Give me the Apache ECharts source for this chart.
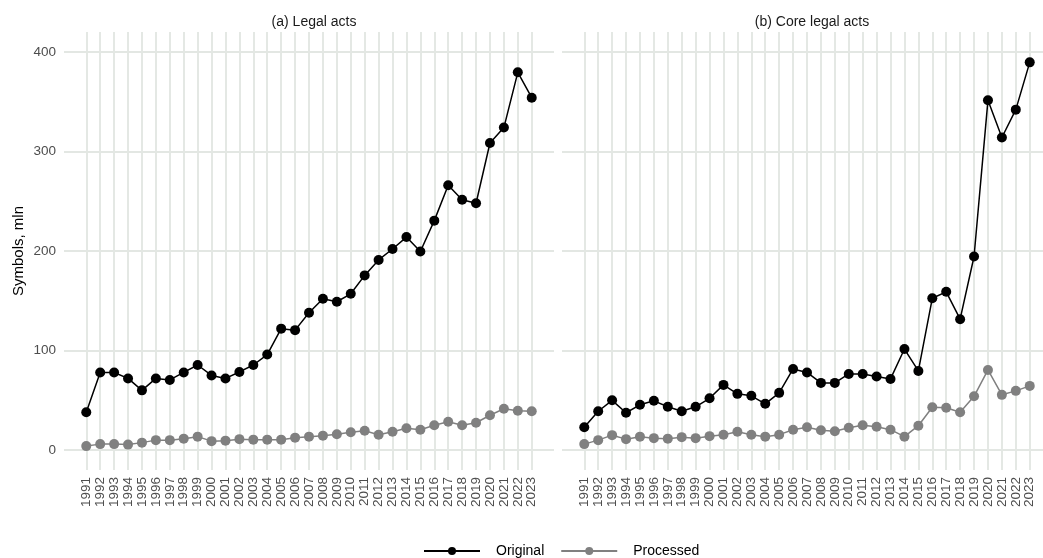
<!DOCTYPE html>
<html>
<head>
<meta charset="utf-8">
<script src="https://cdn.jsdelivr.net/npm/echarts@6/dist/echarts.min.js"></script>
<style>
  html, body { margin: 0; padding: 0; background: #fff; }
  #chart { width: 1043px; height: 558px; }
</style>
</head>
<body>
<div id="chart"></div>
<script>
const years = [
  1991, 1992, 1993, 1994, 1995, 1996, 1997, 1998, 1999, 2000, 2001,
  2002, 2003, 2004, 2005, 2006, 2007, 2008, 2009, 2010, 2011, 2012,
  2013, 2014, 2015, 2016, 2017, 2018, 2019, 2020, 2021, 2022, 2023,
];
const yTicks = [0, 100, 200, 300, 400];

// (a) Legal acts
const legalOriginal = [
  38, 78, 78, 72, 60, 72, 70.5, 78, 85.5, 75, 72,
  78.5, 85.5, 96, 122, 120.5, 138, 152, 149, 157, 175.5, 191,
  202, 214, 199.5, 230.5, 266, 251.5, 248, 308.5, 324, 379.5, 354,
];
const legalProcessed = [
  4, 6, 6, 5.5, 7.5, 10, 10, 11.5, 13.5, 9, 9.5,
  11, 10.5, 10.5, 10.5, 12.5, 13.5, 14.5, 16, 18, 19.5, 15.5,
  18.5, 22, 20.5, 25, 28.5, 25, 27.5, 35, 41.5, 39.5, 39,
];

// (b) Core legal acts
const coreOriginal = [
  23, 39, 50, 37.5, 45.5, 49.5, 43.5, 39, 43.5, 52, 65.5,
  56.5, 54.5, 46.5, 57.5, 81.5, 78, 67.5, 67.5, 76.5, 76.5, 74,
  71.5, 101.5, 79.5, 152.5, 159, 131.5, 194.5, 351.5, 314, 342, 389.5,
];
const coreProcessed = [
  6, 10, 15, 11, 13.5, 12, 11.5, 13, 12, 14, 15.5,
  18.5, 15.5, 13.5, 15.5, 20.5, 23, 20, 19, 22.5, 25, 23.5,
  20.5, 13.5, 24.5, 43, 42.5, 38, 54, 80.5, 55.5, 59.5, 64.5,
];

const pairs = (vals) => years.map((y, i) => [y, vals[i]]);

const gridColor = "#e3e7e3";
const font = "Liberation Sans, Arial, sans-serif";

const xAxisBase = (gridIndex) => ({
  type: "value",
  gridIndex,
  min: 1989.4,
  max: 2024.6,
  axisLine: { show: false },
  axisTick: { show: false, customValues: years },
  axisLabel: {
    customValues: years,
    rotate: 90,
    fontSize: 13.5,
    color: "#4d4d4d",
    fontFamily: font,
    margin: 7,
    showMinLabel: true,
    showMaxLabel: true,
    hideOverlap: false,
    formatter: (v) => String(v),
  },
  splitLine: { show: true, lineStyle: { color: gridColor, width: 1.9 } },
});

const yAxisBase = (gridIndex, showLabels) => ({
  type: "value",
  gridIndex,
  min: -20,
  max: 420,
  axisLine: { show: false },
  axisTick: { show: false, customValues: yTicks },
  axisLabel: {
    show: showLabels,
    customValues: yTicks,
    fontSize: 13.5,
    color: "#4d4d4d",
    fontFamily: font,
    margin: 8,
  },
  splitLine: { show: true, lineStyle: { color: gridColor, width: 1.9 } },
});

const lineSeries = (name, vals, idx, color) => ({
  name,
  type: "line",
  xAxisIndex: idx,
  yAxisIndex: idx,
  data: pairs(vals),
  symbol: "circle",
  symbolSize: 10,
  showSymbol: true,
  lineStyle: { color, width: 1.5 },
  itemStyle: { color },
  emphasis: { disabled: true },
  z: name === "Original" ? 3 : 2,
});

const chart = echarts.init(document.getElementById("chart"));

chart.setOption({
  animation: false,
  textStyle: { fontFamily: font },
  title: [
    {
      text: "(a) Legal acts",
      left: 309,
      top: 10,
      textAlign: "center",
      textStyle: { fontSize: 14, fontWeight: "normal", color: "#1a1a1a", fontFamily: font },
    },
    {
      text: "(b) Core legal acts",
      left: 807,
      top: 10,
      textAlign: "center",
      textStyle: { fontSize: 14, fontWeight: "normal", color: "#1a1a1a", fontFamily: font },
    },
  ],
  legend: {
    data: ["Original", "Processed"],
    top: 539,
    left: 418,
    itemWidth: 56,
    itemHeight: 10,
    itemGap: 16,
    textStyle: { fontSize: 14, color: "#000", fontFamily: font, padding: [0, 0, 0, 11] },
  },
  grid: [
    { left: 64, top: 32, width: 490, height: 438, outerBoundsMode: "none" },
    { left: 562, top: 32, width: 490, height: 438, outerBoundsMode: "none" },
  ],
  xAxis: [xAxisBase(0), xAxisBase(1)],
  yAxis: [
    Object.assign(yAxisBase(0, true), {
      name: "Symbols, mln",
      nameLocation: "middle",
      nameRotate: 90,
      nameGap: 38,
      nameTextStyle: { fontSize: 15, color: "#000", fontFamily: font },
    }),
    yAxisBase(1, false),
  ],
  series: [
    lineSeries("Original", legalOriginal, 0, "#000000"),
    lineSeries("Processed", legalProcessed, 0, "#808080"),
    lineSeries("Original", coreOriginal, 1, "#000000"),
    lineSeries("Processed", coreProcessed, 1, "#808080"),
  ],
});
</script>
</body>
</html>
